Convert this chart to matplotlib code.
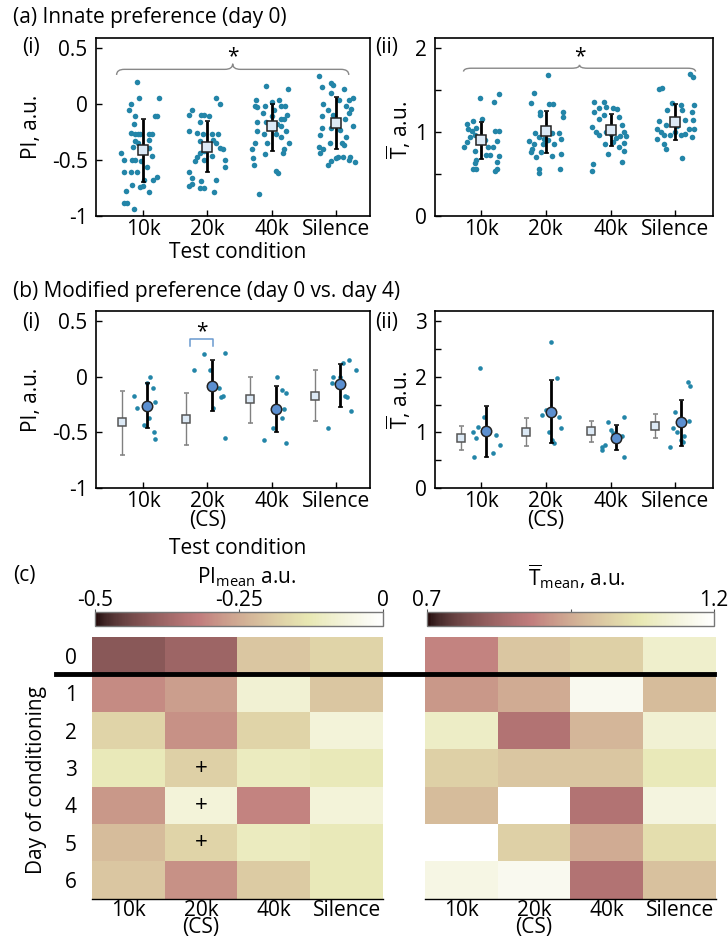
import numpy as np
import matplotlib
matplotlib.use('Agg')
import matplotlib.pyplot as plt
from matplotlib.path import Path
from matplotlib.patches import PathPatch
from matplotlib.lines import Line2D

plt.rcParams['font.family'] = ['Open Sans', 'DejaVu Sans']
plt.rcParams['mathtext.fontset'] = 'custom'
plt.rcParams['mathtext.rm'] = 'Open Sans'
plt.rcParams['mathtext.it'] = 'Open Sans:italic'
plt.rcParams['axes.unicode_minus'] = False

categories = ['10k', '20k', '40k', 'Silence']
categories_cs = ['10k', '20k\n(CS)', '40k', 'Silence']
days = ['0', '1', '2', '3', '4', '5', '6']

# ---- (a)(i) innate PI, day 0: (jitter, value) per animal
pi0_10k = [(-0.09, 0.20), (-0.06, 0.05), (0.25, 0.05), (-0.19, 0.0), (-0.22, -0.05), (-0.13, -0.11),
           (0.18, -0.11), (0.22, -0.11), (-0.14, -0.18), (-0.19, -0.26), (-0.13, -0.27), (-0.08, -0.27),
           (-0.04, -0.27), (0.09, -0.27), (0.14, -0.27), (-0.12, -0.33), (-0.08, -0.35), (0.09, -0.32),
           (-0.16, -0.38), (-0.04, -0.38), (0.10, -0.39), (-0.34, -0.44), (0.14, -0.46), (-0.30, -0.50),
           (-0.17, -0.50), (-0.12, -0.50), (-0.03, -0.51), (0.06, -0.56), (-0.29, -0.61), (-0.19, -0.61),
           (-0.09, -0.61), (0.22, -0.65), (0.01, -0.68), (0.15, -0.68), (-0.17, -0.72), (-0.04, -0.74),
           (0.0, -0.73), (-0.26, -0.78), (0.09, -0.79), (-0.29, -0.88), (-0.25, -0.88), (-0.14, -0.94)]
pi0_20k = [(0.13, 0.05), (0.20, 0.0), (-0.24, -0.05), (-0.28, -0.10), (-0.09, -0.10), (-0.05, -0.10),
           (0.03, -0.11), (-0.11, -0.16), (-0.29, -0.24), (-0.16, -0.26), (-0.06, -0.27), (0.07, -0.27),
           (0.17, -0.27), (-0.11, -0.33), (0.09, -0.32), (0.13, -0.35), (0.20, -0.39), (0.24, -0.40),
           (-0.12, -0.44), (-0.16, -0.47), (0.08, -0.46), (-0.19, -0.51), (-0.05, -0.50), (0.27, -0.50),
           (-0.29, -0.61), (-0.23, -0.66), (-0.09, -0.69), (0.13, -0.68), (-0.24, -0.71), (-0.29, -0.73),
           (-0.11, -0.75), (-0.05, -0.75), (0.11, -0.79), (0.27, -0.56), (-0.05, -0.42)]
pi0_40k = [(-0.09, 0.16), (0.26, 0.13), (-0.25, 0.04), (0.12, 0.04), (-0.26, -0.02), (-0.22, -0.03),
           (-0.10, -0.02), (0.01, 0.02), (0.15, -0.02), (0.21, -0.02), (0.24, -0.10), (-0.14, -0.08),
           (-0.09, -0.16), (-0.22, -0.16), (0.14, -0.13), (0.19, -0.13), (-0.03, -0.18), (0.09, -0.18),
           (0.15, -0.20), (0.22, -0.24), (-0.22, -0.24), (-0.12, -0.27), (0.07, -0.27), (0.14, -0.29),
           (0.27, -0.35), (-0.26, -0.35), (-0.07, -0.35), (-0.30, -0.40), (0.19, -0.40), (-0.10, -0.45),
           (0.17, -0.44), (-0.29, -0.48), (-0.27, -0.54), (0.07, -0.60), (0.10, -0.62), (-0.19, -0.80),
           (0.01, -0.11), (0.04, -0.05)]
pi0_sil = [(-0.26, 0.25), (-0.08, 0.19), (-0.04, 0.17), (-0.21, 0.15), (0.12, 0.13), (-0.07, 0.10),
           (0.20, 0.04), (0.26, 0.05), (0.05, 0.04), (-0.20, 0.00), (0.24, -0.04), (0.16, -0.02),
           (-0.12, -0.05), (0.21, -0.08), (-0.22, -0.11), (-0.04, -0.10), (0.14, -0.13), (-0.21, -0.21),
           (0.27, -0.20), (-0.07, -0.21), (0.07, -0.23), (-0.25, -0.28), (0.16, -0.29), (-0.09, -0.35),
           (0.09, -0.35), (0.12, -0.37), (-0.27, -0.38), (-0.20, -0.40), (0.04, -0.47), (0.11, -0.47),
           (0.22, -0.47), (0.21, -0.50), (-0.25, -0.44), (-0.07, -0.51), (-0.12, -0.54), (0.29, -0.52),
           (0.0, -0.48)]
pi0_mean = [-0.41, -0.38, -0.20, -0.17]
pi0_lo = [-0.70, -0.61, -0.42, -0.40]
pi0_hi = [-0.13, -0.15, 0.00, 0.06]

# ---- (a)(ii) innate T-bar, day 0
t0_10k = [(-0.02, 1.40), (0.20, 1.36), (0.28, 1.45), (-0.22, 1.10), (-0.12, 1.13), (0.01, 1.16),
          (-0.20, 1.04), (-0.14, 1.01), (-0.08, 1.05), (0.27, 1.01), (0.22, 1.01), (-0.17, 0.94),
          (-0.09, 0.96), (0.24, 0.89), (-0.22, 0.88), (-0.27, 0.82), (0.11, 0.82), (0.19, 0.82),
          (-0.09, 0.78), (0.08, 0.73), (0.14, 0.73), (0.28, 0.71), (-0.07, 0.67), (0.25, 0.64),
          (-0.09, 0.63), (-0.12, 0.56), (-0.08, 0.56), (0.22, 0.54), (0.24, 0.56), (0.06, 0.90)]
t0_20k = [(0.03, 1.68), (-0.18, 1.47), (-0.23, 1.34), (0.05, 1.33), (0.11, 1.33), (-0.09, 1.24),
          (-0.09, 1.20), (0.26, 1.24), (0.27, 1.18), (-0.17, 0.99), (-0.05, 0.99), (0.10, 0.99),
          (0.21, 0.99), (-0.26, 0.89), (-0.18, 0.86), (-0.10, 0.94), (-0.03, 0.92), (0.23, 0.92),
          (-0.21, 0.80), (-0.23, 0.76), (-0.08, 0.76), (0.13, 0.86), (-0.15, 0.70), (0.23, 0.74),
          (0.10, 0.71), (-0.10, 0.56), (0.22, 0.56), (-0.11, 0.51), (-0.05, 0.86), (0.03, 0.90)]
t0_40k = [(-0.26, 1.36), (-0.10, 1.36), (-0.18, 1.29), (-0.07, 1.30), (0.03, 1.29), (0.10, 1.27),
          (-0.26, 1.24), (-0.10, 1.20), (0.13, 1.18), (-0.18, 1.16), (-0.28, 1.06), (-0.22, 1.00),
          (-0.07, 1.00), (0.18, 1.08), (0.21, 1.00), (-0.18, 0.96), (0.15, 0.95), (0.23, 0.95),
          (0.08, 0.93), (0.03, 0.88), (0.21, 0.87), (0.13, 0.82), (-0.04, 0.74), (0.21, 0.77),
          (0.17, 0.64), (-0.27, 0.62), (-0.28, 0.54), (-0.08, 0.86), (0.0, 0.98)]
t0_sil = [(-0.26, 1.51), (-0.21, 1.53), (0.27, 1.65), (0.23, 1.69), (-0.05, 1.35), (0.08, 1.32),
          (0.28, 1.32), (-0.13, 1.26), (0.10, 1.26), (0.26, 1.24), (-0.26, 1.13), (-0.15, 1.08),
          (0.15, 1.14), (0.27, 1.14), (-0.28, 1.04), (-0.23, 1.00), (0.0, 1.00), (0.21, 1.04),
          (0.28, 1.04), (-0.18, 0.96), (-0.08, 0.96), (0.08, 0.96), (0.15, 0.98), (-0.28, 0.92),
          (0.26, 0.94), (-0.18, 0.86), (-0.15, 0.80), (0.10, 0.69), (0.03, 1.07)]
t0_mean = [0.90, 1.01, 1.03, 1.12]
t0_lo = [0.68, 0.75, 0.83, 0.90]
t0_hi = [1.12, 1.25, 1.21, 1.33]

# ---- (b)(i) PI on day 4 (circles) vs day 0 (squares)
pi4_10k = [(-0.14, -0.17), (-0.09, -0.28), (0.06, -0.06), (0.11, 0.0), (0.155, -0.10), (0.19, -0.23),
           (0.09, -0.37), (0.02, -0.43), (0.165, -0.50), (0.185, -0.56)]
pi4_20k = [(-0.05, 0.20), (-0.2, 0.06), (0.05, 0.06), (0.27, 0.21), (0.19, -0.10), (0.21, -0.18),
           (0.25, -0.17), (0.09, -0.28), (0.27, -0.55)]
pi4_40k = [(0.08, 0.0), (0.165, -0.12), (0.23, -0.15), (0.19, -0.29), (0.165, -0.37), (0.02, -0.46),
           (-0.12, -0.57), (0.23, -0.60)]
pi4_sil = [(-0.05, 0.0), (-0.06, -0.06), (0.11, 0.12), (0.2, 0.15), (0.31, 0.06), (0.07, 0.0),
           (0.145, -0.17), (0.165, -0.18), (0.23, -0.31), (-0.12, -0.46)]
pi4_mean = [-0.26, -0.08, -0.29, -0.07]
pi4_lo = [-0.46, -0.31, -0.50, -0.27]
pi4_hi = [-0.06, 0.15, -0.085, 0.115]

# ---- (b)(ii) T-bar on day 4
t4_10k = [(-0.02, 2.15), (0.05, 1.28), (-0.04, 1.10), (-0.12, 1.0), (-0.07, 0.89), (0.23, 0.96),
          (0.30, 0.77), (0.19, 0.62), (-0.11, 0.55)]
t4_20k = [(0.08, 2.63), (0.18, 1.98), (-0.06, 1.32), (0.0, 1.40), (0.2, 1.28), (0.24, 1.07),
          (0.05, 1.0), (0.09, 0.87), (0.12, 0.80)]
t4_40k = [(-0.04, 1.19), (0.2, 1.28), (0.0, 1.05), (0.03, 0.98), (0.17, 0.93), (-0.13, 0.74),
          (-0.09, 0.78), (-0.14, 0.69), (0.2, 0.55)]
t4_sil = [(0.0, 1.37), (0.19, 1.90), (0.23, 1.84), (0.21, 1.20), (-0.03, 1.08), (0.03, 1.0),
          (0.13, 0.93), (0.09, 0.86), (0.11, 0.82), (-0.08, 0.74)]
t4_mean = [1.02, 1.37, 0.90, 1.18]
t4_lo = [0.56, 0.80, 0.68, 0.76]
t4_hi = [1.48, 1.94, 1.13, 1.59]

# ---- (c) daily means
pi_daily = [[-0.41, -0.38, -0.20, -0.17],
            [-0.30, -0.27, -0.08, -0.20],
            [-0.17, -0.29, -0.17, -0.07],
            [-0.12, -0.18, -0.11, -0.12],
            [-0.28, -0.07, -0.31, -0.07],
            [-0.22, -0.17, -0.11, -0.12],
            [-0.20, -0.29, -0.19, -0.12]]
t_daily = [[0.89, 1.00, 1.02, 1.11],
           [0.92, 0.95, 1.17, 0.98],
           [1.10, 0.855, 0.97, 1.12],
           [1.02, 1.00, 1.00, 1.08],
           [0.98, 1.20, 0.855, 1.14],
           [1.20, 1.02, 0.95, 1.05],
           [1.15, 1.17, 0.855, 0.99]]
plus_cells = [(3, 1), (4, 1), (5, 1)]

W, H = 728, 941
fig = plt.figure(figsize=(W / 100, H / 100), dpi=100)

DOT = '#2385a8'
SQ_FACE = '#dce9f5'
CIRC_FACE = '#5b8fd0'
FS = 15


def px_axes(l, t, r, b):
    return fig.add_axes([l / W, 1 - b / H, (r - l) / W, (b - t) / H])


def ftext(x, y, s, **kw):
    kw.setdefault('fontsize', FS)
    return fig.text(x / W, 1 - y / H, s, **kw)


def style_axes(ax):
    for sp in ax.spines.values():
        sp.set_linewidth(1.2)
    ax.tick_params(direction='in', length=4, width=1, labelsize=FS)
    ax.tick_params(axis='y', pad=6)
    ax.tick_params(axis='x', pad=2.5)


def brace(ax, x0, x1, y, h, color='#888888'):
    xm = (x0 + x1) / 2
    d = 0.12
    verts = [(x0, y - h), (x0, y), (x0 + d, y), (xm - d, y), (xm, y), (xm, y + h),
             (xm, y), (xm + d, y), (x1 - d, y), (x1, y), (x1, y - h)]
    codes = [Path.MOVETO, Path.CURVE3, Path.CURVE3, Path.LINETO, Path.CURVE3, Path.CURVE3,
             Path.CURVE3, Path.CURVE3, Path.LINETO, Path.CURVE3, Path.CURVE3]
    ax.add_patch(PathPatch(Path(verts, codes), fc='none', ec=color, lw=1.0, clip_on=False))


def dots(ax, groups, s):
    for i, g in enumerate(groups):
        g = np.array(g)
        ax.scatter(i + 1 + g[:, 0], g[:, 1], s=s, color=DOT, lw=0, zorder=2)


def summary(ax, xs, mean, lo, hi, marker, face, ms, ecolor, elw, mec='#222222'):
    mean = np.array(mean)
    yerr = [mean - np.array(lo), np.array(hi) - mean]
    ax.errorbar(xs, mean, yerr=yerr, fmt=marker, ms=ms, mfc=face, mec=mec, mew=1.1,
                ecolor=ecolor, elinewidth=elw, capsize=1.8, capthick=elw, zorder=4)


pos = np.arange(1, 5)

# (a)(i)
ax = px_axes(96, 38, 370, 216)
style_axes(ax)
dots(ax, [pi0_10k, pi0_20k, pi0_40k, pi0_sil], 16)
summary(ax, pos, pi0_mean, pi0_lo, pi0_hi, 's', SQ_FACE, 7, 'black', 2.0)
ax.set_xlim(0.27, 4.53)
ax.set_ylim(-1.0, 0.59)
ax.set_yticks([-1, -0.5, 0, 0.5])
ax.set_yticklabels(['-1', '-0.5', '0', '0.5'])
ax.set_xticks(pos)
ax.set_xticklabels(categories)
brace(ax, 0.59, 4.2, 0.31, 0.05)
ax.text(2.4, 0.42, '*', ha='center', va='center', fontsize=FS)

# (a)(ii)
ax = px_axes(435, 38, 713, 216)
style_axes(ax)
dots(ax, [t0_10k, t0_20k, t0_40k, t0_sil], 16)
summary(ax, pos, t0_mean, t0_lo, t0_hi, 's', SQ_FACE, 7, 'black', 2.0)
ax.set_xlim(0.29, 4.58)
ax.set_ylim(0, 2.12)
ax.set_yticks([0, 0.5, 1, 1.5, 2])
ax.set_yticklabels(['0', '', '1', '', '2'])
ax.set_xticks(pos)
ax.set_xticklabels(categories)
brace(ax, 0.73, 4.31, 1.76, 0.04)
ax.text(2.53, 1.90, '*', ha='center', va='center', fontsize=FS)

# (b)(i)
ax = px_axes(96, 311, 370, 488)
style_axes(ax)
dots(ax, [pi4_10k, pi4_20k, pi4_40k, pi4_sil], 11)
summary(ax, pos - 0.33, pi0_mean, pi0_lo, pi0_hi, 's', SQ_FACE, 6, '#808080', 1.0, mec='#555555')
summary(ax, pos + 0.07, pi4_mean, pi4_lo, pi4_hi, 'o', CIRC_FACE, 7.5, 'black', 2.0)
ax.set_xlim(0.27, 4.53)
ax.set_ylim(-1.0, 0.59)
ax.set_yticks([-1, -0.5, 0, 0.5])
ax.set_yticklabels(['-1', '-0.5', '0', '0.5'])
ax.set_xticks(pos)
ax.set_xticklabels(categories_cs, linespacing=0.85, va='top')
ax.plot([1.73, 1.73, 2.09, 2.09], [0.28, 0.34, 0.34, 0.28], color='#6a9ad0', lw=1.1)
ax.text(1.91, 0.40, '*', ha='center', va='center', fontsize=FS)

# (b)(ii)
ax = px_axes(435, 311, 713, 488)
style_axes(ax)
dots(ax, [t4_10k, t4_20k, t4_40k, t4_sil], 11)
summary(ax, pos - 0.31, t0_mean, t0_lo, t0_hi, 's', SQ_FACE, 6, '#808080', 1.0, mec='#555555')
summary(ax, pos + 0.08, t4_mean, t4_lo, t4_hi, 'o', CIRC_FACE, 7.5, 'black', 2.0)
ax.set_xlim(0.29, 4.58)
ax.set_ylim(0, 3.18)
ax.set_yticks(np.arange(0, 3.01, 0.5))
ax.set_yticklabels(['0', '', '1', '', '2', '', '3'])
ax.set_xticks(pos)
ax.set_xticklabels(categories_cs, linespacing=0.85, va='top')

# (c) heatmaps
heat_specs = [((92, 637, 383, 899), (95, 612, 383, 626), pi_daily, -0.5, 0,
               [-0.5, -0.25, 0], ['-0.5', '-0.25', '0'], True),
              ((425, 637, 716, 899), (427, 612, 714, 626), t_daily, 0.7, 1.2,
               [0.7, 0.95, 1.2], ['0.7', '', '1.2'], False)]
for box, cbox, arr, vmin, vmax, cticks, clabels, left in heat_specs:
    ax = px_axes(*box)
    im = ax.imshow(np.array(arr), cmap='pink', vmin=vmin, vmax=vmax, aspect='auto',
                   interpolation='nearest')
    for k in ['top', 'right', 'left']:
        ax.spines[k].set_visible(False)
    ax.spines['bottom'].set_linewidth(1.0)
    ax.set_xticks(range(4))
    ax.set_xticklabels(categories_cs, linespacing=0.75, va='top')
    ax.tick_params(axis='x', length=0, labelsize=FS, pad=1)
    if left:
        ax.set_yticks(range(7))
        ax.set_yticklabels(days)
        ax.tick_params(axis='y', length=0, labelsize=FS, pad=11)
        for r, c in plus_cells:
            ax.text(c, r, '+', ha='center', va='center', fontsize=16)
    else:
        ax.set_yticks([])
    cax = px_axes(*cbox)
    cb = fig.colorbar(im, cax=cax, orientation='horizontal')
    cb.outline.set_edgecolor('#777777')
    cb.outline.set_linewidth(1.0)
    cax.xaxis.set_ticks_position('top')
    cb.set_ticks(cticks)
    cb.set_ticklabels(clabels)
    cax.tick_params(length=2, width=0.8, labelsize=FS, pad=-1.5, color='#555555')

fig.add_artist(Line2D([56 / W, 714 / W], [1 - 674 / H, 1 - 674 / H], lw=3.5, color='black'))

# text labels
ftext(13, 18, '(a) Innate preference (day 0)', va='center')
ftext(22, 48, '(i)', va='center')
ftext(375, 48, '(ii)', va='center')
ftext(32, 127, 'PI, a.u.', rotation=90, ha='center', va='center')
ftext(399, 130, r'$\overline{\mathrm{T}}$, a.u.', rotation=90, ha='center', va='center')
ftext(238, 252, 'Test condition', ha='center', va='center')

ftext(13, 292, '(b) Modified preference (day 0 vs. day 4)', va='center')
ftext(22, 322, '(i)', va='center')
ftext(375, 322, '(ii)', va='center')
ftext(32, 400, 'PI, a.u.', rotation=90, ha='center', va='center')
ftext(399, 400, r'$\overline{\mathrm{T}}$, a.u.', rotation=90, ha='center', va='center')
ftext(238, 549, 'Test condition', ha='center', va='center')

ftext(13, 575, '(c)', va='center')
ftext(247, 577, r'PI$_{\mathrm{mean}}$ a.u.', ha='center', va='center')
ftext(577, 577, r'$\overline{\mathrm{T}}_{\mathrm{mean}}$, a.u.', ha='center', va='center')
ftext(37, 780, 'Day of conditioning', rotation=90, ha='center', va='center')

fig.savefig('out.png', dpi=100)
